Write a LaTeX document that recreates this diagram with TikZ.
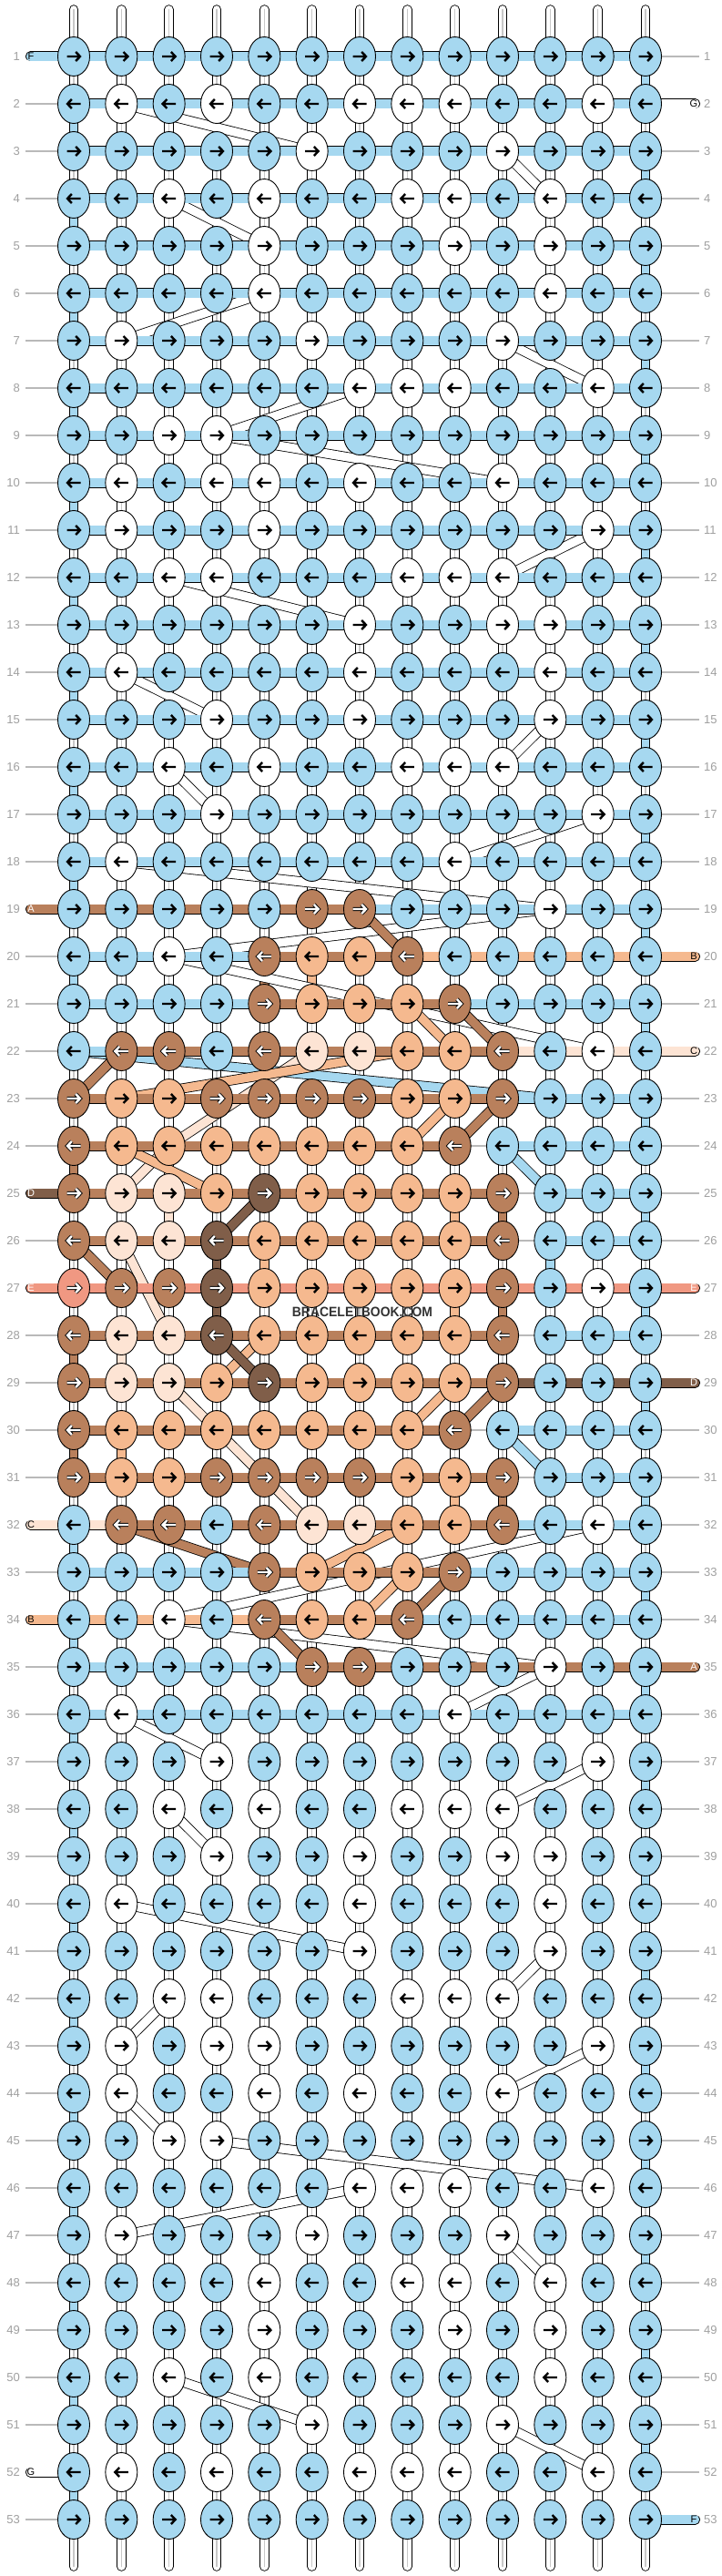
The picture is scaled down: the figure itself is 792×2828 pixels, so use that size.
\documentclass[tikz,border=0pt]{standalone}
\usepackage{fontspec}
\setmainfont{Liberation Sans}
\usetikzlibrary{shapes.geometric}
\definecolor{cb}{RGB}{166,216,240}
\definecolor{cw}{RGB}{255,255,255}
\definecolor{cn}{RGB}{185,128,92}
\definecolor{cp}{RGB}{245,185,143}
\definecolor{cl}{RGB}{253,228,212}
\definecolor{cd}{RGB}{128,94,73}
\definecolor{cs}{RGB}{240,152,130}
\colorlet{cx}{white}
\definecolor{lab}{RGB}{160,160,160}
\definecolor{gline}{RGB}{185,185,185}
\definecolor{tubeline}{RGB}{200,200,200}
% arrow colours
\colorlet{ab}{black}\colorlet{aw}{black}\colorlet{ap}{black}\colorlet{al}{black}
\colorlet{an}{white}\colorlet{ad}{white}\colorlet{as}{white}
\colorlet{ob}{cb}\colorlet{ow}{cw}\colorlet{op}{cp}\colorlet{ol}{cl}
\colorlet{on}{black}\colorlet{od}{black}\colorlet{os}{black}
% bar outline / centre
\colorlet{eb}{black}\colorlet{ew}{black}\colorlet{en}{black}\colorlet{ep}{black}
\colorlet{el}{black}\colorlet{ed}{black}\colorlet{es}{black}\colorlet{ex}{white}
\colorlet{gb}{cb}\colorlet{gw}{cw}\colorlet{gn}{cn}\colorlet{gp}{cp}
\colorlet{gl}{cl}\colorlet{gd}{cd}\colorlet{gs}{cs}\colorlet{gx}{gline}
% centre line of vertical strings
\colorlet{ib}{cb}\colorlet{iw}{tubeline}\colorlet{in}{cn}\colorlet{ip}{cp}
\colorlet{il}{cl}\colorlet{id}{cd}\colorlet{is}{cs}
\pgfdeclarelayer{strings}\pgfdeclarelayer{bands}\pgfdeclarelayer{bars}
\pgfsetlayers{strings,bands,bars,main}
\newcommand\hbarseg[4]{%
  \draw[line width=11pt,color=e#4] (k-#1-#2.center) -- (k-#1-#3.center);
  \draw[line width=9.2pt,color=c#4] (k-#1-#2.center) -- (k-#1-#3.center);
  \draw[line width=1.2pt,color=g#4] (k-#1-#2.center) -- (k-#1-#3.center);}
\newcommand\vseg[4]{%
  \draw[line width=10.5pt,color=black] (k-#1-#3.center) -- (k-#2-#3.center);
  \draw[line width=8.7pt,color=c#4] (k-#1-#3.center) -- (k-#2-#3.center);
  \draw[line width=1.6pt,color=i#4] (k-#1-#3.center) -- (k-#2-#3.center);}
\begin{document}
\begin{tikzpicture}[x=1pt,y=-1pt,
  knot/.style={ellipse,draw=black,line width=0.9pt,minimum width=35pt,minimum height=43pt,inner sep=0pt},
  num/.style={text=lab,font=\fontsize{13}{13}\selectfont,inner sep=0pt},
  tag/.style={font=\fontsize{11}{11}\selectfont,inner sep=0pt}]
\begin{pgfonlayer}{strings}
\fill[white] (0,0) rectangle (792,2828);
\end{pgfonlayer}
\path[use as bounding box] (0,0) rectangle (792,2828);
% ---------------- knots ----------------
\foreach \r/\ks in {
1/{b,b,b,b,b,b,b,b,b,b,b,b,b},
2/{b,w,b,w,b,b,w,w,w,b,b,w,b},
3/{b,b,b,b,b,w,b,b,b,w,b,b,b},
4/{b,b,w,b,w,b,b,w,w,b,w,b,b},
5/{b,b,b,b,w,b,b,b,w,b,w,b,b},
6/{b,b,b,b,w,b,b,b,b,b,w,b,b},
7/{b,w,b,b,b,w,b,b,b,w,b,b,b},
8/{b,b,b,b,b,b,w,w,w,b,b,w,b},
9/{b,b,w,w,b,b,b,b,b,b,b,b,b},
10/{b,w,b,w,w,b,w,b,b,w,b,b,b},
11/{b,w,b,b,w,b,b,b,b,b,b,w,b},
12/{b,b,w,w,b,b,b,w,w,w,b,b,b},
13/{b,b,b,b,b,b,w,b,b,w,w,b,b},
14/{b,w,b,b,b,b,w,b,b,b,w,b,b},
15/{b,b,b,w,b,b,w,b,b,b,w,b,b},
16/{b,b,w,b,w,b,b,w,w,w,b,b,b},
17/{b,b,b,w,b,b,b,b,b,b,b,w,b},
18/{b,w,b,b,b,b,b,b,w,b,b,b,b},
19/{b,b,b,b,b,n,n,b,b,b,w,b,b},
20/{b,b,w,b,n,p,p,n,b,b,b,b,b},
21/{b,b,b,b,n,p,p,p,n,b,b,b,b},
22/{b,n,n,b,n,l,l,p,p,n,b,w,b},
23/{n,p,p,n,n,n,n,p,p,n,b,b,b},
24/{n,p,p,p,p,p,p,p,n,b,b,b,b},
25/{n,l,l,p,d,p,p,p,p,n,b,b,b},
26/{n,l,l,d,p,p,p,p,p,n,b,b,b},
27/{s,n,n,d,p,p,p,p,p,n,b,w,b},
28/{n,l,l,d,p,p,p,p,p,n,b,b,b},
29/{n,l,l,p,d,p,p,p,p,n,b,b,b},
30/{n,p,p,p,p,p,p,p,n,b,b,b,b},
31/{n,p,p,n,n,n,n,p,p,n,b,b,b},
32/{b,n,n,b,n,l,l,p,p,n,b,w,b},
33/{b,b,b,b,n,p,p,p,n,b,b,b,b},
34/{b,b,w,b,n,p,p,n,b,b,b,b,b},
35/{b,b,b,b,b,n,n,b,b,b,w,b,b},
36/{b,w,b,b,b,b,b,b,w,b,b,b,b},
37/{b,b,b,w,b,b,b,b,b,b,b,w,b},
38/{b,b,w,b,w,b,b,w,w,w,b,b,b},
39/{b,b,b,w,b,b,w,b,b,w,w,b,b},
40/{b,w,b,b,b,b,w,b,b,b,w,b,b},
41/{b,b,b,b,b,b,w,b,b,b,w,b,b},
42/{b,b,w,w,b,b,b,w,w,w,b,b,b},
43/{b,w,b,w,w,b,b,b,b,b,b,w,b},
44/{b,w,b,b,w,b,w,b,b,w,b,b,b},
45/{b,b,w,w,b,b,b,b,b,b,b,b,b},
46/{b,b,b,b,b,b,w,w,w,b,b,w,b},
47/{b,w,b,b,b,w,b,b,b,w,b,b,b},
48/{b,b,b,b,w,b,b,w,w,b,w,b,b},
49/{b,b,b,b,w,b,b,b,w,b,w,b,b},
50/{b,b,w,b,w,b,b,b,b,b,w,b,b},
51/{b,b,b,b,b,w,b,b,b,w,b,b,b},
52/{b,w,b,w,b,b,w,w,w,b,b,w,b},
53/{b,b,b,b,b,b,b,b,b,b,b,b,b}}{
  \pgfmathsetmacro\yy{62+(\r-1)*52}
  \ifodd\r\relax\def\dir{1}\else\def\dir{-1}\fi
  \foreach \k [count=\c] in \ks {
    \pgfmathsetmacro\xx{81+(\c-1)*52.333}
    \node[knot,fill=c\k] (k-\r-\c) at (\xx,\yy) {};
    \begin{scope}[shift={(\xx,\yy)},xscale=\dir]
      \draw[line width=2.4pt,color=a\k,preaction={draw=o\k,line width=4.2pt}]
        (-7.5,0) -- (6,0) (2.2,-5) -- (7,0) -- (2.2,5);
    \end{scope}
  }
  \node[num,anchor=east] (nl-\r) at (22,\yy) {\r};
  \node[num,anchor=west] (nr-\r) at (773,\yy) {\r};
  \begin{pgfonlayer}{bars}
    \coordinate (gl-\r) at (28,\yy);
    \coordinate (gr-\r) at (768,\yy);
    \draw[color=gline,line width=1.2pt] (gl-\r) -- (k-\r-1.west);
    \draw[color=gline,line width=1.2pt] (k-\r-13.east) -- (gr-\r);
  \end{pgfonlayer}
}
% ---------------- vertical strings ----------------
\begin{pgfonlayer}{strings}
\foreach \c in {1,...,13}{
  \pgfmathsetmacro\xx{81+(\c-1)*52.333}
  \coordinate (T-\c) at (\xx,10.5);
  \coordinate (U-\c) at (\xx,2817.5);
  \foreach \a/\z in {T-\c/k-1-\c, k-53-\c/U-\c}{
    \draw[line width=10.5pt,color=black,line cap=round] (\a) -- (\z.center);
    \draw[line width=8.7pt,color=white,line cap=round] (\a) -- (\z.center);
    \draw[line width=1.6pt,color=tubeline,line cap=round] (\a) -- (\z.center);
  }
}
\foreach \r in {1,...,52}{
  \pgfmathtruncatemacro\rn{\r+1}
  \foreach \c in {1,...,13}{
    \def\vc{w}
    \ifnum\c=1 \ifodd\r\relax\else\def\vc{b}\fi\fi
    \ifnum\c=13 \ifodd\r\relax\def\vc{b}\fi\fi
    \vseg{\r}{\rn}{\c}{\vc}
  }
}
\foreach \r/\c/\v in {20/5/n,20/6/p,22/1/w,24/1/n,25/3/l,25/9/p,25/10/n,26/1/w,
  26/4/d,26/5/p,26/11/b,27/4/d,27/9/p,27/10/n,28/1/n,28/2/l,30/1/n,30/2/p,31/9/p,31/10/n}{
  \pgfmathtruncatemacro\rn{\r+1}
  \vseg{\r}{\rn}{\c}{\v}
}
\end{pgfonlayer}
% ---------------- diagonal strings ----------------
\begin{pgfonlayer}{bands}
\foreach \qa/\qb/\qc/\qd/\qe in {
 w/2/2/3/6, w/3/10/4/11, w/4/3/5/5, w/6/5/7/2, w/7/10/8/12, w/8/7/9/4, w/9/4/10/10,
 w/11/12/12/10, w/12/3/13/7, w/14/2/15/4, w/15/11/16/10, w/16/3/17/4, w/17/12/18/9,
 w/18/2/19/11, w/19/11/20/3, w/20/3/22/12, w/32/12/34/3, w/34/3/35/11, w/35/11/36/9,
 w/36/2/37/4, w/37/12/38/10, w/38/3/39/4, w/40/2/41/7, w/41/11/42/10, w/42/3/43/2,
 w/43/12/44/10, w/44/2/45/3, w/45/4/46/12, w/46/7/47/2, w/47/10/48/11, w/50/3/51/6,
 w/51/10/52/12,
 b/22/1/23/11, b/24/10/25/11, b/30/10/31/11,
 l/22/6/24/3, l/24/3/25/2, l/26/2/28/3, l/29/3/30/4, l/30/4/32/6,
 p/22/8/23/2, p/21/8/22/9, p/23/9/24/8, p/24/2/25/4, p/28/5/29/4, p/29/9/30/8,
 p/32/8/33/6, p/33/8/34/7,
 n/19/7/20/8, n/21/9/22/10, n/22/2/23/1, n/23/10/24/9, n/26/1/27/2, n/29/10/30/9,
 n/32/2/33/5, n/33/9/34/8, n/34/5/35/6,
 d/25/5/26/4, d/28/4/29/5}{
  \draw[line width=11pt,color=black] (k-\qb-\qc.center) -- (k-\qd-\qe.center);
  \draw[line width=9.4pt,color=c\qa] (k-\qb-\qc.center) -- (k-\qd-\qe.center);
}
\end{pgfonlayer}
% ---------------- horizontal bars ----------------
\begin{pgfonlayer}{bars}
\foreach \r in {1,...,18,36,...,53}{
  \foreach \c in {1,...,12}{
    \pgfmathtruncatemacro\cn{\c+1}
    \hbarseg{\r}{\c}{\cn}{b}
  }
}
\foreach \r/\bs in {
19/{n,n,n,n,n,n,b,b,b,b,b,b},
20/{b,b,b,b,n,n,n,p,p,p,p,p},
21/{b,b,b,b,n,n,n,n,b,b,b,b},
22/{b,n,n,n,n,n,n,n,n,l,l,l},
23/{n,n,n,n,n,n,n,n,n,b,b,b},
24/{n,n,n,n,n,n,n,n,x,b,b,b},
25/{n,n,n,n,n,n,n,n,n,x,b,b},
26/{n,n,n,n,n,n,n,n,n,x,b,b},
27/{s,s,s,s,s,s,s,s,s,s,s,s},
28/{n,n,n,n,n,n,n,n,n,x,b,b},
29/{n,n,n,n,n,n,n,n,n,d,d,d},
30/{n,n,n,n,n,n,n,n,x,b,b,b},
31/{n,n,n,n,n,n,n,n,n,x,b,b},
32/{l,n,n,n,n,n,n,n,n,b,b,b},
33/{b,b,b,b,n,n,n,n,b,b,b,b},
34/{p,p,p,p,n,n,n,b,b,b,b,b},
35/{b,b,b,b,b,n,n,n,n,n,n,n}}{
  \foreach \s [count=\c] in \bs {
    \pgfmathtruncatemacro\cn{\c+1}
    \hbarseg{\r}{\c}{\cn}{\s}
  }
}
% edge strings
\foreach \r/\v/\t/\tc in {1/b/F/black,19/n/A/white,25/d/D/white,27/s/E/white,32/l/C/black,34/p/B/black,52/w/G/black}{
  \pgfmathsetmacro\yy{62+(\r-1)*52}
  \coordinate (L-\r) at (33.5,\yy);
  \draw[line width=11pt,color=black,line cap=round] (L-\r) -- (k-\r-1.center);
  \draw[line width=9.2pt,color=c\v,line cap=round] (L-\r) -- (k-\r-1.center);
  \node[tag,text=\tc] (tl-\r) at (34,\yy) {\t};
}
\foreach \r/\v/\t/\tc in {2/w/G/black,20/p/B/black,22/l/C/black,27/s/E/white,29/d/D/white,35/n/A/white,53/b/F/black}{
  \pgfmathsetmacro\yy{62+(\r-1)*52}
  \coordinate (R-\r) at (763.5,\yy);
  \draw[line width=11pt,color=black,line cap=round] (k-\r-13.center) -- (R-\r);
  \draw[line width=9.2pt,color=c\v,line cap=round] (k-\r-13.center) -- (R-\r);
  \node[tag,text=\tc] (tr-\r) at (762,\yy) {\t};
}
\end{pgfonlayer}
% watermark
\node[text=black!80,font=\fontsize{15}{15}\selectfont\bfseries,inner sep=0pt] (wm) at (398,1440)
  {\scalebox{0.93}[1]{BRACELETBOOK.COM}};
\end{tikzpicture}
\end{document}
